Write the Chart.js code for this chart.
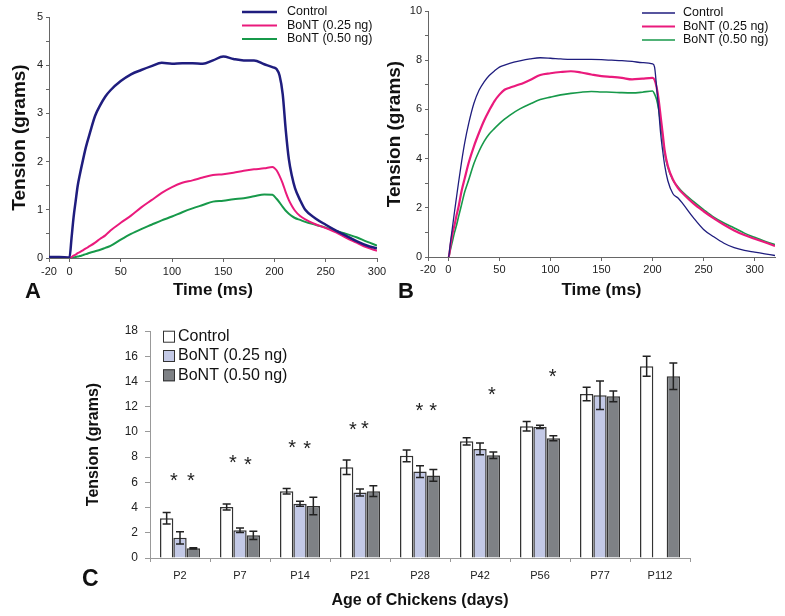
<!DOCTYPE html>
<html>
<head>
<meta charset="utf-8">
<script src="https://cdn.jsdelivr.net/npm/chart.js@4.4.1/dist/chart.umd.min.js"></script>
<style>
  body { margin: 0; background: #fff; width: 785px; height: 616px; position: relative; overflow: hidden; font-family: "Liberation Sans", Arial, sans-serif; }
  canvas { position: absolute; }
  .panel { position: absolute; font-weight: bold; line-height: 1; color: #111; }
</style>
</head>
<body>
<canvas id="chartA" width="392" height="305" style="left:0;top:0"></canvas>
<canvas id="chartB" width="405" height="305" style="left:380px;top:0"></canvas>
<canvas id="chartC" width="640" height="311" style="left:75px;top:305px"></canvas>
<div class="panel" style="left:25px;top:280px;font-size:22px">A</div>
<div class="panel" style="left:398px;top:280px;font-size:22px">B</div>
<div class="panel" style="left:82px;top:567px;font-size:23px">C</div>
<script>
// ---- panel A : twitch traces (ms, grams)
const timeA = [-20, -10, 0, 2, 4, 6, 8, 10, 13, 16, 20, 25, 30, 35, 40, 50, 60, 70, 80, 90, 100, 110, 120, 130, 140, 150, 160, 170, 180, 190, 198, 202, 205, 208, 211, 214, 217, 220, 225, 230, 240, 250, 260, 270, 280, 290, 300];
const controlA = [0.02, 0.02, 0.01, 0.42, 0.85, 1.18, 1.5, 1.72, 2.02, 2.3, 2.6, 2.95, 3.17, 3.35, 3.48, 3.67, 3.81, 3.9, 3.98, 4.05, 4.03, 4.04, 4.04, 4.03, 4.1, 4.18, 4.13, 4.1, 4.1, 4.02, 3.96, 3.92, 3.78, 3.4, 2.65, 2.05, 1.7, 1.45, 1.2, 1.0, 0.82, 0.69, 0.57, 0.46, 0.35, 0.26, 0.2];
const bont25A = [0.02, 0.02, 0.0, 0.02, 0.05, 0.07, 0.1, 0.12, 0.16, 0.2, 0.25, 0.32, 0.4, 0.47, 0.57, 0.73, 0.88, 1.05, 1.2, 1.35, 1.47, 1.56, 1.61, 1.67, 1.72, 1.74, 1.77, 1.81, 1.84, 1.86, 1.89, 1.82, 1.7, 1.55, 1.36, 1.2, 1.08, 0.98, 0.87, 0.8, 0.7, 0.62, 0.53, 0.42, 0.32, 0.22, 0.15];
const bont50A = [0, 0, 0, 0, 0.01, 0.02, 0.03, 0.04, 0.06, 0.08, 0.11, 0.14, 0.17, 0.21, 0.25, 0.38, 0.5, 0.6, 0.69, 0.78, 0.86, 0.95, 1.03, 1.1, 1.17, 1.19, 1.22, 1.24, 1.28, 1.32, 1.31, 1.23, 1.15, 1.06, 0.98, 0.92, 0.87, 0.83, 0.79, 0.75, 0.69, 0.63, 0.56, 0.5, 0.43, 0.34, 0.26];
const timeTicksA = [-20, 0, 50, 100, 150, 200, 250, 300];

// ---- panel B : tetanic traces
const timeB = [-20, -10, 0, 2, 4, 6, 8, 10, 13, 16, 20, 25, 30, 35, 40, 45, 50, 55, 60, 70, 80, 90, 100, 110, 120, 130, 140, 150, 160, 170, 180, 190, 200, 202, 204, 206, 208, 210, 212, 215, 220, 225, 230, 240, 250, 260, 270, 280, 290, 300, 310, 320];
const controlB = [-0.03, -0.03, -0.02, 0.6, 1.22, 1.85, 2.45, 3.05, 3.9, 4.65, 5.45, 6.25, 6.78, 7.12, 7.38, 7.56, 7.72, 7.8, 7.87, 7.97, 8.05, 8.1, 8.08, 8.05, 8.03, 8.03, 8.03, 8.02, 8.0, 7.98, 7.95, 7.9, 7.85, 7.72, 6.9, 6.0, 5.0, 4.3, 3.7, 3.1, 2.57, 2.4, 2.15, 1.6, 1.12, 0.82, 0.56, 0.38, 0.27, 0.2, 0.13, 0.06];
const bont25B = [-0.05, -0.05, -0.04, 0.45, 0.95, 1.3, 1.7, 2.05, 2.7, 3.2, 3.85, 4.5, 5.05, 5.55, 5.96, 6.33, 6.6, 6.8, 6.88, 7.02, 7.2, 7.4, 7.47, 7.52, 7.55, 7.5, 7.42, 7.35, 7.32, 7.28, 7.22, 7.25, 7.28, 7.2, 6.9, 6.4, 5.7, 5.0, 4.3, 3.7, 3.15, 2.8, 2.57, 2.18, 1.86, 1.57, 1.31, 1.08, 0.89, 0.74, 0.6, 0.45];
const bont50B = [-0.03, -0.03, -0.02, 0.3, 0.65, 1.0, 1.3, 1.65, 2.15, 2.65, 3.15, 3.8, 4.3, 4.7, 5.0, 5.22, 5.42, 5.6, 5.76, 6.02, 6.22, 6.4, 6.5, 6.59, 6.65, 6.7, 6.73, 6.71, 6.7, 6.68, 6.67, 6.7, 6.75, 6.62, 6.4, 6.0, 5.4, 4.8, 4.2, 3.65, 3.12, 2.85, 2.62, 2.26, 1.93, 1.62, 1.38, 1.18, 0.97, 0.8, 0.64, 0.5];
const timeTicksB = [-20, 0, 50, 100, 150, 200, 250, 300];

// ---- panel C : peak tension by age
const ages = ['P2', 'P7', 'P14', 'P21', 'P28', 'P42', 'P56', 'P77', 'P112'];
const controlC = [3.15, 4.05, 5.3, 7.2, 8.1, 9.25, 10.45, 13.0, 15.2];
const controlErr = [0.45, 0.24, 0.22, 0.58, 0.46, 0.29, 0.38, 0.53, 0.79];
const bont25C = [1.6, 2.2, 4.3, 5.2, 6.85, 8.65, 10.4, 12.9, null];
const bont25Err = [0.48, 0.17, 0.2, 0.28, 0.46, 0.46, 0.13, 1.13, null];
const bont50C = [0.77, 1.8, 4.12, 5.3, 6.55, 8.15, 9.5, 12.82, 14.42];
const bont50Err = [0.05, 0.33, 0.7, 0.43, 0.47, 0.26, 0.2, 0.43, 1.05];
// significance stars: position in category units, height in grams
const starX = [-0.1, 0.18, 0.88, 1.13, 1.87, 2.12, 2.88, 3.08, 3.99, 4.22, 5.2, 6.21];
const starY = [6.55, 6.55, 8.0, 7.8, 9.15, 9.05, 10.6, 10.7, 12.1, 12.1, 13.4, 14.8];

const NAVY = '#1f1d7e';
const PINK = '#ea1a7c';
const GREEN = '#17994a';
const FONT = '"Liberation Sans", Arial, sans-serif';

Chart.defaults.font.family = FONT;
Chart.defaults.color = '#222';

const pts = (t, v) => t.map((x, i) => ({ x: x, y: v[i] }));

// legend drawn inside the plot, like the original figure
const cornerLegend = {
    id: 'cornerLegend',
    afterDraw(chart, args, opts) {
        const ctx = chart.ctx;
        ctx.save();
        ctx.font = opts.font;
        ctx.textBaseline = 'middle';
        chart.data.datasets.forEach((ds, i) => {
            const y = opts.y + i * opts.rowGap;
            if (opts.kind === 'line') {
                ctx.strokeStyle = ds.borderColor;
                ctx.lineWidth = ds.borderWidth;
                ctx.beginPath();
                ctx.moveTo(opts.x, y);
                ctx.lineTo(opts.x + opts.len, y);
                ctx.stroke();
            } else {
                ctx.fillStyle = ds.backgroundColor;
                ctx.fillRect(opts.x, y - opts.len / 2, opts.len, opts.len);
                ctx.strokeStyle = '#333';
                ctx.lineWidth = 1;
                ctx.strokeRect(opts.x + 0.5, y - opts.len / 2 + 0.5, opts.len - 1, opts.len - 1);
            }
            ctx.fillStyle = '#111';
            ctx.fillText(ds.label, opts.x + opts.len + opts.gap, y);
        });
        ctx.restore();
    }
};

const errorBars = {
    id: 'errorBars',
    afterDatasetsDraw(chart) {
        const ctx = chart.ctx, yS = chart.scales.y;
        ctx.save();
        ctx.strokeStyle = '#222';
        ctx.lineWidth = 1.5;
        chart.data.datasets.forEach((ds, i) => {
            chart.getDatasetMeta(i).data.forEach((bar, j) => {
                const v = ds.data[j], e = ds.errors[j];
                if (v == null || e == null) return;
                const top = yS.getPixelForValue(v + e), bot = yS.getPixelForValue(v - e);
                ctx.beginPath();
                ctx.moveTo(bar.x, top); ctx.lineTo(bar.x, bot);
                ctx.moveTo(bar.x - 4, top); ctx.lineTo(bar.x + 4, top);
                ctx.moveTo(bar.x - 4, bot); ctx.lineTo(bar.x + 4, bot);
                ctx.stroke();
            });
        });
        ctx.restore();
    }
};

const stars = {
    id: 'stars',
    afterDatasetsDraw(chart) {
        const { ctx, scales: { x, y } } = chart;
        ctx.save();
        ctx.fillStyle = '#222';
        ctx.font = '20px ' + FONT;
        ctx.textAlign = 'center';
        ctx.textBaseline = 'alphabetic';
        starX.forEach((sx, k) => {
            ctx.fillText('*', x.getPixelForValue(sx), y.getPixelForValue(starY[k]) + 11.5);
        });
        ctx.restore();
    }
};

function lineDataset(label, t, v, color, w) {
    return {
        label: label,
        data: pts(t, v),
        borderColor: color,
        borderWidth: w,
        pointRadius: 0,
        cubicInterpolationMode: 'monotone',
        fill: false
    };
}

function traceOptions(cfg) {
    return {
        responsive: false,
        animation: false,
        layout: { padding: { top: cfg.padTop, right: cfg.padRight, left: 0, bottom: 0 } },
        plugins: {
            legend: { display: false },
            tooltip: { enabled: false },
            cornerLegend: cfg.legend
        },
        scales: {
            x: {
                type: 'linear',
                min: cfg.xMin,
                max: cfg.xMax,
                afterBuildTicks: s => { s.ticks = cfg.xTicks.map(v => ({ value: v })); },
                afterFit: s => { s.height = cfg.xHeight; },
                border: { color: '#666' },
                grid: { drawOnChartArea: false, tickLength: 4, color: '#666' },
                ticks: { font: { size: 11 }, color: '#222', padding: cfg.xPad, maxRotation: 0, autoSkip: false },
                title: {
                    display: true,
                    text: 'Time (ms)',
                    color: '#111',
                    font: { size: 17, weight: 'bold' },
                    padding: { top: 0, bottom: 4 }
                }
            },
            y: {
                min: 0,
                max: cfg.yMax,
                afterFit: s => { s.width = cfg.yWidth; },
                border: { color: '#666' },
                grid: { drawOnChartArea: false, tickLength: 3, color: '#666' },
                ticks: {
                    stepSize: cfg.yMinor,
                    font: { size: 11 },
                    color: '#222',
                    padding: 3,
                    callback: v => (Math.abs(v / cfg.yMajor - Math.round(v / cfg.yMajor)) < 1e-6 ? v : '')
                },
                title: {
                    display: true,
                    text: 'Tension (grams)',
                    color: '#111',
                    font: { size: 19, weight: 'bold' },
                    padding: { top: cfg.yTitlePad, bottom: 0 }
                }
            }
        }
    };
}

new Chart(document.getElementById('chartA'), {
    type: 'line',
    data: {
        datasets: [
            lineDataset('Control', timeA, controlA, NAVY, 2.5),
            lineDataset('BoNT (0.25 ng)', timeA, bont25A, PINK, 2),
            lineDataset('BoNT (0.50 ng)', timeA, bont50A, GREEN, 2)
        ]
    },
    options: traceOptions({
        padTop: 17, padRight: 15, xMin: -20, xMax: 300, xTicks: timeTicksA,
        xHeight: 47, xPad: 3, yMax: 5, yMajor: 1, yMinor: 0.5, yWidth: 49, yTitlePad: 8,
        legend: { kind: 'line', x: 242, y: 12, rowGap: 13.5, len: 35, gap: 10, font: '12.5px ' + FONT }
    }),
    plugins: [cornerLegend]
});

new Chart(document.getElementById('chartB'), {
    type: 'line',
    data: {
        datasets: [
            lineDataset('Control', timeB, controlB, NAVY, 1.3),
            lineDataset('BoNT (0.25 ng)', timeB, bont25B, PINK, 2.2),
            lineDataset('BoNT (0.50 ng)', timeB, bont50B, GREEN, 1.6)
        ]
    },
    options: traceOptions({
        padTop: 11, padRight: 10, xMin: -20, xMax: 320, xTicks: timeTicksB,
        xHeight: 48, xPad: 2, yMax: 10, yMajor: 2, yMinor: 1, yWidth: 48, yTitlePad: 3,
        legend: { kind: 'line', x: 262, y: 13, rowGap: 13.5, len: 33, gap: 8, font: '12.5px ' + FONT }
    }),
    plugins: [cornerLegend]
});

new Chart(document.getElementById('chartC'), {
    type: 'bar',
    data: {
        labels: ages,
        datasets: [
            { label: 'Control', data: controlC, errors: controlErr, backgroundColor: '#ffffff' },
            { label: 'BoNT (0.25 ng)', data: bont25C, errors: bont25Err, backgroundColor: '#c3c9e6' },
            { label: 'BoNT (0.50 ng)', data: bont50C, errors: bont50Err, backgroundColor: '#7e8185' }
        ].map(d => Object.assign(d, {
            borderColor: '#333',
            borderWidth: 1.5,
            categoryPercentage: 0.667,
            barPercentage: 1.0
        }))
    },
    options: {
        responsive: false,
        animation: false,
        layout: { padding: { top: 26, right: 25, left: 0, bottom: 0 } },
        plugins: {
            legend: { display: false },
            tooltip: { enabled: false },
            cornerLegend: { kind: 'box', x: 88, y: 31.7, rowGap: 19.3, len: 12, gap: 3, font: '16px ' + FONT }
        },
        scales: {
            x: {
                afterFit: s => { s.height = 58; },
                border: { color: '#999' },
                grid: { drawOnChartArea: false, tickLength: 4, color: '#999' },
                ticks: { font: { size: 11 }, color: '#222', padding: 7 },
                title: {
                    display: true,
                    text: 'Age of Chickens (days)',
                    color: '#111',
                    font: { size: 16, weight: 'bold' },
                    padding: { top: 0, bottom: 6 }
                }
            },
            y: {
                min: 0,
                max: 18,
                afterFit: s => { s.width = 75; },
                border: { color: '#999' },
                grid: { drawOnChartArea: false, tickLength: 5, color: '#999' },
                ticks: { stepSize: 2, font: { size: 12 }, color: '#222', padding: 7 },
                title: {
                    display: true,
                    text: 'Tension (grams)',
                    color: '#111',
                    font: { size: 16, weight: 'bold' },
                    padding: { top: 9, bottom: 0 }
                }
            }
        }
    },
    plugins: [cornerLegend, errorBars, stars]
});
</script>
</body>
</html>
